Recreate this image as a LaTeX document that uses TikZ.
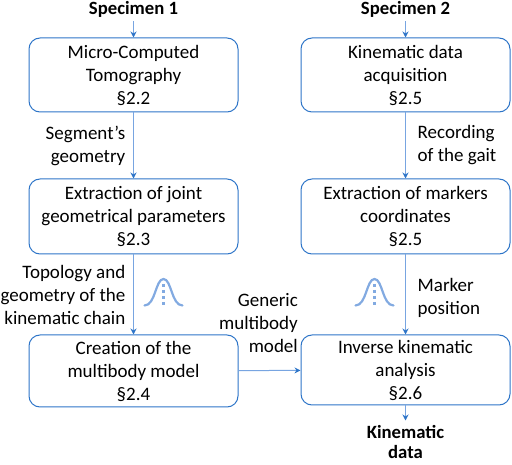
\documentclass[tikz,border=0pt]{standalone}
\usepackage{fontspec}
\setmainfont{Carlito}
\usetikzlibrary{arrows.meta, positioning, calc}
\definecolor{boxblue}{RGB}{46,117,200}
\definecolor{linkblue}{RGB}{120,165,225}
\definecolor{belllight}{RGB}{130,170,225}
\tikzset{
  block/.style={
    rectangle, rounded corners=11pt, minimum width=209pt,
    minimum height=74pt, align=center, inner sep=0pt,
    draw=boxblue, line width=1pt, font=\fontsize{19}{23}\selectfont
  },
  arr/.style={draw=linkblue, line width=1pt, -{Stealth[length=6pt,width=6pt,color=boxblue]}},
  ttl/.style={font=\fontsize{18.7}{20}\selectfont\bfseries, align=center, inner sep=0pt},
  lbl/.style={font=\fontsize{19}{23}\selectfont, inner sep=0pt},
  bell/.style={draw=belllight, line width=2.2pt, line cap=round}
}
\newcommand{\bellcurve}[1]{
  \draw[bell] ($(#1)+(-19,-13.5)$) .. controls ($(#1)+(-8,-13.5)$) and ($(#1)+(-8,13)$) .. ($(#1)+(0,13)$)
     .. controls ($(#1)+(8,13)$) and ($(#1)+(8,-13.5)$) .. ($(#1)+(19,-13.5)$);
  \draw[bell, line cap=butt, line width=2.8pt, dash pattern=on 3pt off 3pt] ($(#1)+(0,8)$) -- ($(#1)+(0,-14)$);
}
\begin{document}
\begin{tikzpicture}[x=1pt, y=1pt]
  \useasboundingbox (0,0) rectangle (512,464);

  \node[block] at (133.5,389) (micro) {Micro-Computed\\Tomography\\§2.2};
  \node[block, minimum height=75pt, below=66pt of micro] (joint) {Extraction of joint\\geometrical parameters\\§2.3};
  \node[block, minimum height=72pt, below=80pt of joint] (multi) {Creation of the\\multibody model\\§2.4};

  \node[block, right=62pt of micro] (acq) {Kinematic data\\acquisition\\§2.5};
  \node[block, minimum height=75pt, below=66pt of acq] (mark) {Extraction of markers\\coordinates\\§2.5};
  \node[block, minimum height=70pt, below=80pt of mark] (inv) {Inverse kinematic\\analysis\\§2.6};

  \node[ttl] at (133.5,454.5) (spec1) {Specimen 1};
  \node[ttl] at (405.5,454.5) (spec2) {Specimen 2};

  \coordinate (s1) at ($(micro.north)+(0,16)$);
  \coordinate (s2) at ($(acq.north)+(0,16)$);
  \coordinate (k1) at ($(inv.south)+(0,-15)$);
  \node[ttl, below=5pt of k1] (kdata) {Kinematic\\data};

  \draw[arr] (s1) -- (micro);
  \draw[arr] (s2) -- (acq);
  \draw[arr] (micro) -- (joint);
  \draw[arr] (joint) -- (multi);
  \draw[arr] (acq) -- (mark);
  \draw[arr] (mark) -- (inv);
  \draw[arr] (multi) -- (inv);
  \draw[arr] (inv) -- (k1);

  \node[lbl, align=right, left=8pt of $(micro.south)!0.5!(joint.north)$] (seg) {Segment’s\\geometry};
  \node[lbl, align=right, left=8pt of $(joint.south)!0.5!(multi.north)$] (topo) {Topology and\\geometry of the\\kinematic chain};
  \node[lbl, align=left, right=12pt of $(acq.south)!0.5!(mark.north)$] (rec) {Recording\\of the gait};
  \node[lbl, align=left, right=12pt of $(mark.south)!0.5!(inv.north)$, yshift=-3pt] (mpos) {Marker\\position};
  \node[lbl, align=right, anchor=east] at (298,141) (gen) {Generic\\multibody\\model};

  \coordinate (bell1) at (163.5,172);
  \coordinate (bell2) at (374.5,172);
  \bellcurve{bell1}
  \bellcurve{bell2}
\end{tikzpicture}
\end{document}
